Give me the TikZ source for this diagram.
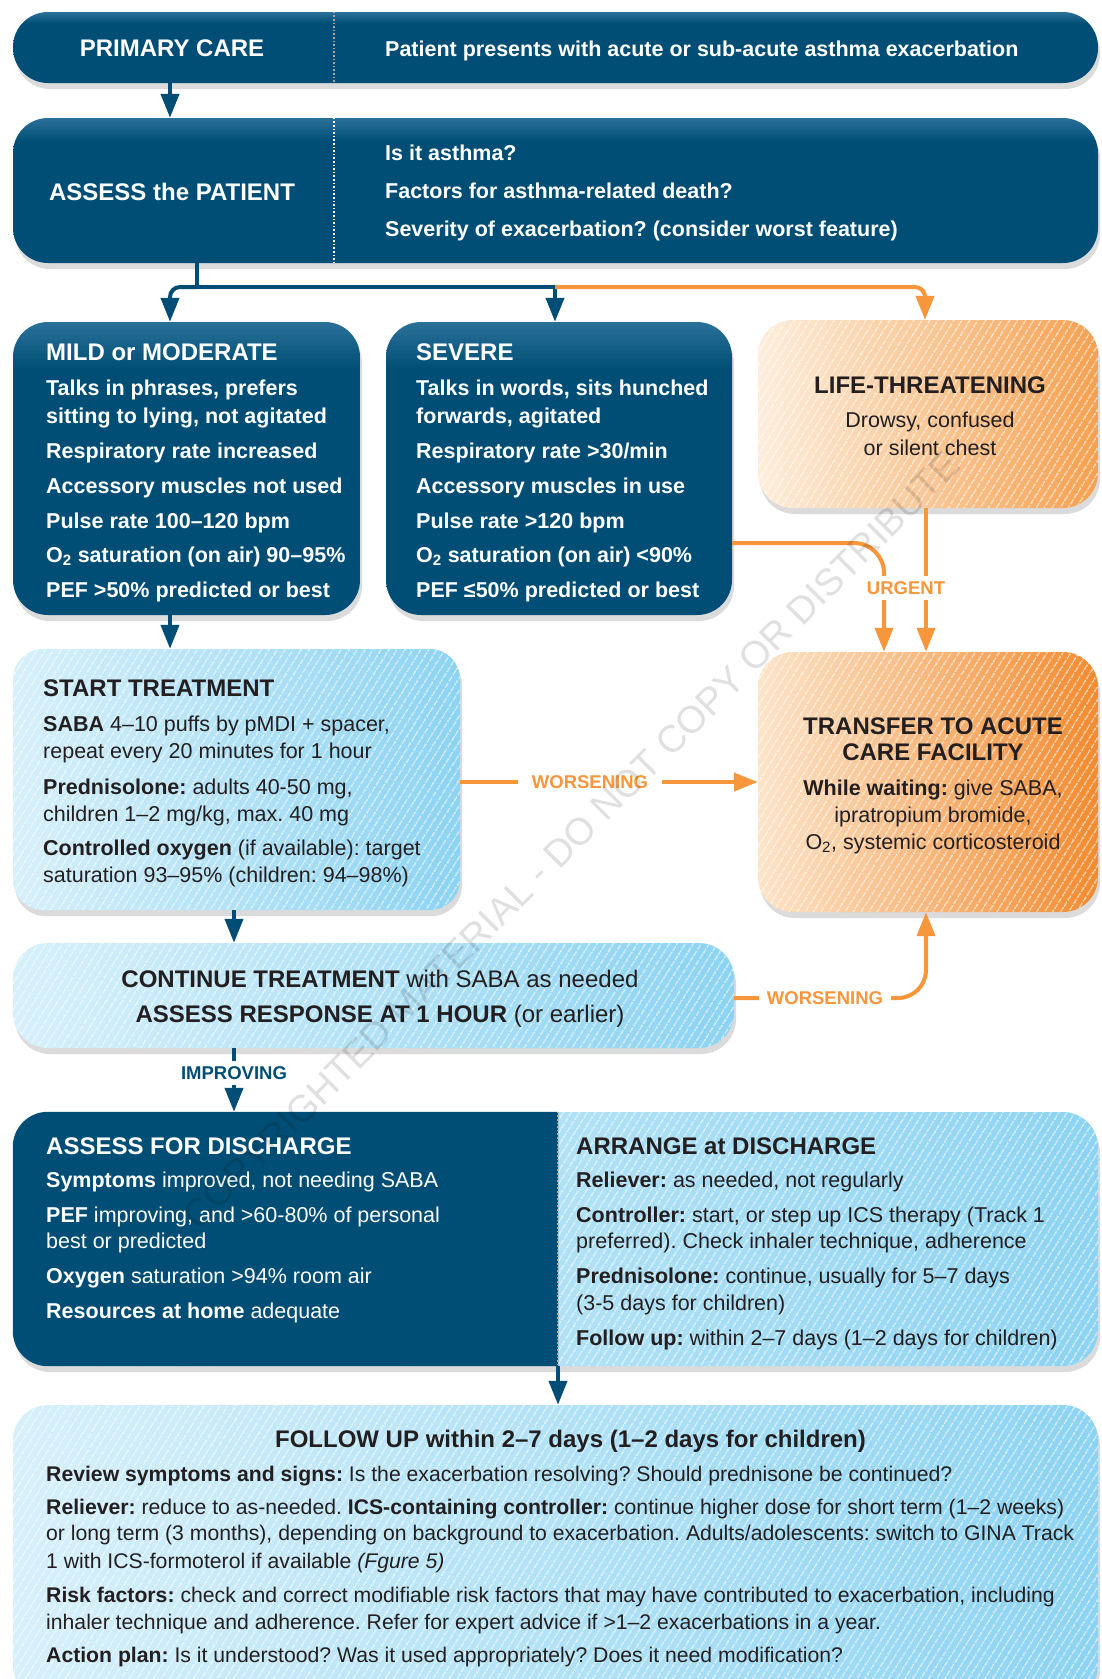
\documentclass[tikz,border=0pt]{standalone}
\usepackage{fontspec}
\setmainfont{Liberation Sans}
\usetikzlibrary{arrows.meta,shadows,patterns.meta}
\frenchspacing
\definecolor{dkblue}{HTML}{004E75}
\definecolor{dkblueL}{HTML}{2A7199}
\definecolor{lbL}{HTML}{D6F0FB}
\definecolor{lbR}{HTML}{8CD3F3}
\definecolor{orLifeL}{HTML}{FDEEDC}
\definecolor{orLifeR}{HTML}{F6A04F}
\definecolor{orTrL}{HTML}{FDE4C9}
\definecolor{orTrR}{HTML}{F38A2E}
\definecolor{oline}{HTML}{F7963A}
\definecolor{txt}{HTML}{231F20}
\pgfdeclareverticalshading{dkv}{100bp}{color(0bp)=(dkblue); color(67bp)=(dkblue); color(75bp)=(dkblueL); color(100bp)=(dkblueL)}
\tikzset{
  box/.style={rectangle, inner sep=0pt, rounded corners=35pt, drop shadow={opacity=0.28, shadow xshift=2pt, shadow yshift=-6pt}},
  dkbox/.style={box, shade, shading=dkv},
  hatch/.style={postaction={fill opacity=0.7, pattern={Lines[angle=58,distance=6.5pt,line width=1.4pt]}, pattern color=white}},
  lbbox/.style={box, left color=lbL, right color=lbR, hatch},
  lifebox/.style={box, left color=orLifeL, right color=orLifeR, hatch},
  trbox/.style={box, left color=orTrL, right color=orTrR, hatch},
  tx/.style={inner sep=0pt, anchor=base west, font=\fontsize{21.5}{26}\selectfont},
  txs/.style={inner sep=0pt, anchor=base west, font=\fontsize{21.2}{26}\selectfont},
  txb/.style={tx, font=\fontsize{21.5}{26}\selectfont\bfseries},
  hd/.style={inner sep=0pt, anchor=base west, font=\fontsize{24}{28}\selectfont\bfseries},
  bl/.style={draw=dkblue, line width=4pt},
  orl/.style={draw=oline, line width=4pt},
  tipb/.style={-{Triangle[width=18pt,length=24pt]}},
  olab/.style={fill=white, text=oline, inner xsep=9pt, inner ysep=5pt, font=\fontsize{18.5}{20}\selectfont\bfseries},
  blab/.style={olab, text=dkblue},
  divider/.style={dotted, line width=1.6pt}
}
\begin{document}
\begin{tikzpicture}[x=1pt,y=-1pt]
\fill[white] (0,0) rectangle (1101,1679);
\useasboundingbox (0,0) rectangle (1101,1679);

% helper coordinates
\coordinate (ax1) at (170,0);
\coordinate (ax2) at (234,0);
\coordinate (fork) at (197,287);
\coordinate (forkB) at (555,287);
\coordinate (lx) at (925,0);
\coordinate (ux1) at (884,0);
\coordinate (ux2) at (926,0);
\coordinate (uy) at (0,543);
\coordinate (wy1) at (0,782);
\coordinate (wy2) at (0,998);
\coordinate (split) at (558,0);
\coordinate (dv1) at (334,0);

% boxes
\node[dkbox, minimum width=1085pt, minimum height=71pt] (primary) at (555.5,47.5) {};
\node[dkbox, minimum width=1085pt, minimum height=145pt] (assess) at (555.5,190.5) {};
\node[dkbox, minimum width=347pt, minimum height=293pt] (mild) at (186.5,468.5) {};
\node[dkbox, minimum width=346pt, minimum height=293pt] (severe) at (559,468.5) {};
\node[lifebox, minimum width=340pt, minimum height=188pt] (life) at (928,414) {};
\node[lbbox, rounded corners=30pt, minimum width=447pt, minimum height=261pt] (start) at (236.5,779.5) {};
\node[trbox, minimum width=340pt, minimum height=260pt] (transfer) at (928,782) {};
\node[lbbox, minimum width=721pt, minimum height=105pt] (cont) at (373.5,995.5) {};
\node[lbbox, minimum width=1085pt, minimum height=254pt] (disc) at (555.5,1239) {};
\begin{scope}
  \clip (disc.north west) rectangle (split |- disc.south);
  \fill[dkblue, rounded corners=35pt] (disc.north west) rectangle (disc.south east);
\end{scope}
\node[lbbox, minimum width=1085pt, minimum height=295pt] (fu) at (555.5,1552.5) {};

% dividers
\draw[divider, gray!70] (primary.north -| dv1) -- (primary.south -| dv1);
\draw[divider, white] (assess.north -| dv1) -- (assess.south -| dv1);
\draw[divider, gray!60] (disc.north -| split) -- (disc.south -| split);

% connectors
\draw[bl, tipb] (primary.south -| ax1) -- (assess.north -| ax1);
\draw[bl] (assess.south -| fork) -- (fork);
\draw[bl, tipb, rounded corners=10pt] (fork) -| (mild.north -| ax1);
\draw[bl, tipb] (fork) -| (severe.north -| forkB);
\draw[orl, tipb, rounded corners=10pt] (forkB) -| (life.north -| lx);
\draw[orl, tipb, rounded corners=30pt] (severe.east |- uy) -| (transfer.north -| ux1);
\draw[orl, tipb] (life.south -| ux2) -- (transfer.north -| ux2);
\draw[bl, tipb] (mild.south -| ax1) -- (start.north -| ax1);
\draw[orl, tipb] (start.east |- wy1) -- (transfer.west |- wy1);
\draw[bl, tipb] (start.south -| ax2) -- (cont.north -| ax2);
\draw[orl, tipb, rounded corners=28pt] (cont.east |- wy2) -| (transfer.south -| ux2);
\draw[bl, tipb] (cont.south -| ax2) -- (disc.north -| ax2);
\draw[bl, tipb] (disc.south -| split) -- (fu.north -| split);

% connector labels
\node[olab] (urgent) at (906,588) {URGENT};
\node[olab, inner xsep=14pt] (wors1) at (590,782) {WORSENING};
\node[olab, inner xsep=8pt] (wors2) at (825,998) {WORSENING};
\node[blab, inner xsep=4pt] (impr) at (234,1073) {IMPROVING};

% primary care
\node[hd, anchor=base, text=white] (pc-h) at (172,56.5) {PRIMARY CARE};
\node[txb, text=white] (pc-t) at (385,56) {Patient presents with acute or sub-acute asthma exacerbation};

% assess
\node[hd, anchor=base, text=white] (as-h) at (172,200) {ASSESS the PATIENT};
\node[txb, text=white] (as-1) at (385,160.5) {Is it asthma?};
\node[txb, text=white] (as-2) at (385,198) {Factors for asthma-related death?};
\node[txb, text=white] (as-3) at (385,236) {Severity of exacerbation? (consider worst feature)};

% mild
\node[hd, text=white] (mi-h) at (46,360) {MILD or MODERATE};
\node[txb, text=white] (mi-1) at (46,395.5) {Talks in phrases, prefers};
\node[txb, text=white] (mi-2) at (46,423) {sitting to lying, not agitated};
\node[txb, text=white] (mi-3) at (46,458) {Respiratory rate increased};
\node[txb, text=white] (mi-4) at (46,493) {Accessory muscles not used};
\node[txb, text=white] (mi-5) at (46,528) {Pulse rate 100–120 bpm};
\node[txb, text=white] (mi-6) at (46,562) {O\textsubscript{2} saturation (on air) 90–95\%};
\node[txb, text=white] (mi-7) at (46,597) {PEF >50\% predicted or best};

% severe
\node[hd, text=white] (se-h) at (416,360) {SEVERE};
\node[txb, text=white] (se-1) at (416,395.5) {Talks in words, sits hunched};
\node[txb, text=white] (se-2) at (416,423) {forwards, agitated};
\node[txb, text=white] (se-3) at (416,458) {Respiratory rate >30/min};
\node[txb, text=white] (se-4) at (416,493) {Accessory muscles in use};
\node[txb, text=white] (se-5) at (416,528) {Pulse rate >120 bpm};
\node[txb, text=white] (se-6) at (416,562) {O\textsubscript{2} saturation (on air) <90\%};
\node[txb, text=white] (se-7) at (416,597) {PEF ≤50\% predicted or best};

% life-threatening
\node[hd, anchor=base, text=txt] (li-h) at (930,393) {LIFE-THREATENING};
\node[tx, anchor=base, text=txt] (li-1) at (930,427) {Drowsy, confused};
\node[tx, anchor=base, text=txt] (li-2) at (930,455.5) {or silent chest};

% start treatment
\node[hd, text=txt] (st-h) at (43,696) {START TREATMENT};
\node[tx, text=txt] (st-1) at (43,731) {\textbf{SABA} 4–10 puffs by pMDI + spacer,};
\node[tx, text=txt] (st-2) at (43,758) {repeat every 20 minutes for 1 hour};
\node[tx, text=txt] (st-3) at (43,794) {\textbf{Prednisolone:} adults 40-50 mg,};
\node[tx, text=txt] (st-4) at (43,821) {children 1–2 mg/kg, max. 40 mg};
\node[tx, text=txt] (st-5) at (43,855) {\textbf{Controlled oxygen} (if available): target};
\node[tx, text=txt] (st-6) at (43,882) {saturation 93–95\% (children: 94–98\%)};

% transfer
\node[hd, anchor=base, text=txt] (tr-h1) at (933,734) {TRANSFER TO ACUTE};
\node[hd, anchor=base, text=txt] (tr-h2) at (933,760.5) {CARE FACILITY};
\node[tx, anchor=base, text=txt] (tr-1) at (933,795.5) {\textbf{While waiting:} give SABA,};
\node[tx, anchor=base, text=txt] (tr-2) at (933,822.5) {ipratropium bromide,};
\node[tx, anchor=base, text=txt] (tr-3) at (933,849) {O\textsubscript{2}, systemic corticosteroid};

% continue treatment
\node[tx, anchor=base, text=txt, font=\fontsize{24}{28}\selectfont] (co-1) at (380,987) {\textbf{CONTINUE TREATMENT} with SABA as needed};
\node[tx, anchor=base, text=txt, font=\fontsize{24}{28}\selectfont] (co-2) at (380,1022) {\textbf{ASSESS RESPONSE AT 1 HOUR} (or earlier)};

% assess for discharge
\node[hd, text=white] (ad-h) at (46,1154) {ASSESS FOR DISCHARGE};
\node[tx, text=white] (ad-1) at (46,1187.5) {\textbf{Symptoms} improved, not needing SABA};
\node[tx, text=white] (ad-2) at (46,1222.5) {\textbf{PEF} improving, and >60-80\% of personal};
\node[tx, text=white] (ad-3) at (46,1248.5) {best or predicted};
\node[tx, text=white] (ad-4) at (46,1283.5) {\textbf{Oxygen} saturation >94\% room air};
\node[tx, text=white] (ad-5) at (46,1318.5) {\textbf{Resources at home} adequate};

% arrange at discharge
\node[hd, text=txt] (ar-h) at (576,1154) {ARRANGE at DISCHARGE};
\node[tx, text=txt] (ar-1) at (576,1187.5) {\textbf{Reliever:} as needed, not regularly};
\node[tx, text=txt] (ar-2) at (576,1222.5) {\textbf{Controller:} start, or step up ICS therapy (Track 1};
\node[tx, text=txt] (ar-3) at (576,1248.5) {preferred). Check inhaler technique, adherence};
\node[tx, text=txt] (ar-4) at (576,1283.5) {\textbf{Prednisolone:} continue, usually for 5–7 days};
\node[tx, text=txt] (ar-5) at (576,1310.5) {(3-5 days for children)};
\node[tx, text=txt] (ar-6) at (576,1345.5) {\textbf{Follow up:} within 2–7 days (1–2 days for children)};

% follow up
\node[hd, anchor=base, text=txt] (fu-h) at (570.5,1447) {FOLLOW UP within 2–7 days (1–2 days for children)};
\node[txs, text=txt] (fu-1) at (46,1481.5) {\textbf{Review symptoms and signs:} Is the exacerbation resolving? Should prednisone be continued?};
\node[txs, text=txt] (fu-2) at (46,1514.5) {\textbf{Reliever:} reduce to as-needed. \textbf{ICS-containing controller:} continue higher dose for short term (1–2 weeks)};
\node[txs, text=txt] (fu-3) at (46,1540.5) {or long term (3 months), depending on background to exacerbation. Adults/adolescents: switch to GINA Track};
\node[txs, text=txt] (fu-4) at (46,1568.5) {1 with ICS-formoterol if available \textit{(Fgure 5)}};
\node[txs, text=txt] (fu-5) at (46,1602.5) {\textbf{Risk factors:} check and correct modifiable risk factors that may have contributed to exacerbation, including};
\node[txs, text=txt] (fu-6) at (46,1629.5) {inhaler technique and adherence. Refer for expert advice if >1–2 exacerbations in a year.};
\node[txs, text=txt] (fu-7) at (46,1662.5) {\textbf{Action plan:} Is it understood? Was it used appropriately? Does it need modification?};

% watermark
\node[rotate=45, text=black, opacity=0.12, inner sep=0pt, font=\fontsize{38}{40}\selectfont] (wm) at (571,840) {COPYRIGHTED MATERIAL - DO NOT COPY OR DISTRIBUTE};
\end{tikzpicture}
\end{document}
